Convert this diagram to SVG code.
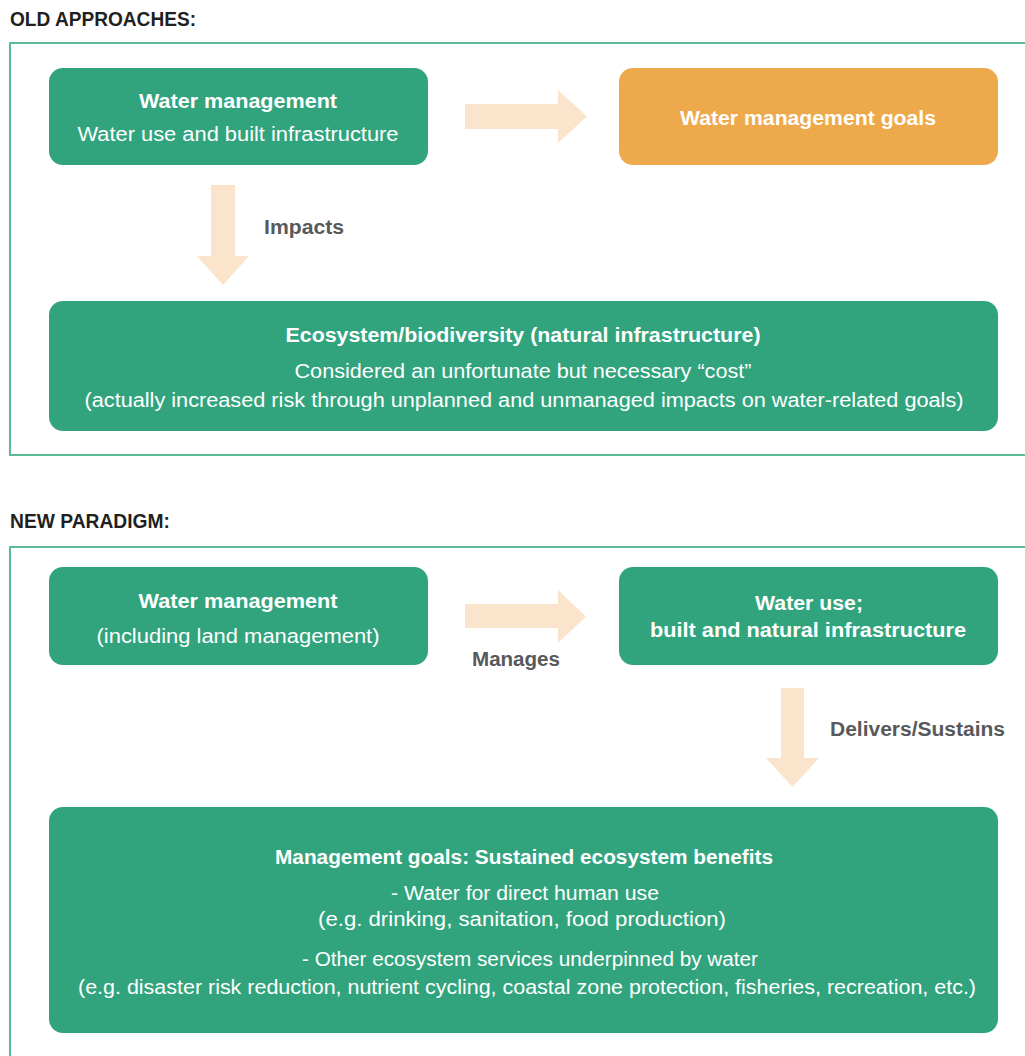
<svg xmlns="http://www.w3.org/2000/svg" width="1025" height="1056" viewBox="0 0 1025 1056">
<style>
.frame{fill:none;stroke:#5DBB95;stroke-width:2}
.node{fill:#31A47E}
.goal{fill:#EEA94C}
.arr{fill:#FBE4CC}
text{font-family:"Liberation Sans",Arial,sans-serif}
.h{font-size:20px;font-weight:bold;fill:#231F20}
.t{font-size:20px;fill:#FFFFFF;text-anchor:middle}
.b{font-weight:bold}
.lbl{font-size:20px;font-weight:bold;fill:#58595B}
</style>
<rect width="1025" height="1056" fill="#FFFFFF"/>
<text class="h" x="10" y="26" textLength="186" lengthAdjust="spacingAndGlyphs">OLD APPROACHES:</text>
<rect class="frame" x="10" y="43" width="1030" height="412"/>
<text class="h" x="10" y="528" textLength="160" lengthAdjust="spacingAndGlyphs">NEW PARADIGM:</text>
<rect class="frame" x="10" y="547" width="1030" height="530"/>

<g id="connectors">
<path class="arr" d="M465,104 H558 V90 L587,116.5 L558,143 V129 H465 Z"/>
<path class="arr" d="M211,185 H235 V256 H249 L223,285 L197,256 H211 Z"/>
<path class="arr" d="M465,604 H558 V590 L586,616.5 L558,643 V628 H465 Z"/>
<path class="arr" d="M781,688 H804 V758 H819 L792.5,787 L766,758 H781 Z"/>
<text class="lbl" x="264" y="234" textLength="80" lengthAdjust="spacingAndGlyphs">Impacts</text>
<text class="lbl" x="472" y="666" textLength="88" lengthAdjust="spacingAndGlyphs">Manages</text>
<text class="lbl" x="830" y="736" textLength="175" lengthAdjust="spacingAndGlyphs">Delivers/Sustains</text>
</g>

<g id="old-water-management">
<rect class="node" x="49" y="68" width="379" height="97" rx="14"/>
<text class="t b" x="238" y="108" textLength="198" lengthAdjust="spacingAndGlyphs">Water management</text>
<text class="t" x="238" y="141" textLength="321" lengthAdjust="spacingAndGlyphs">Water use and built infrastructure</text>
</g>

<g id="old-goals">
<rect class="goal" x="619" y="68" width="379" height="97" rx="14"/>
<text class="t b" x="808" y="125" textLength="256" lengthAdjust="spacingAndGlyphs">Water management goals</text>
</g>

<g id="old-ecosystem">
<rect class="node" x="49" y="301" width="949" height="130" rx="14"/>
<text class="t b" x="523" y="342" textLength="475" lengthAdjust="spacingAndGlyphs">Ecosystem/biodiversity (natural infrastructure)</text>
<text class="t" x="523" y="378" textLength="457" lengthAdjust="spacingAndGlyphs">Considered an unfortunate but necessary “cost”</text>
<text class="t" x="524" y="407" textLength="879" lengthAdjust="spacingAndGlyphs">(actually increased risk through unplanned and unmanaged impacts on water-related goals)</text>
</g>

<g id="new-water-management">
<rect class="node" x="49" y="567" width="379" height="98" rx="14"/>
<text class="t b" x="238" y="608" textLength="199" lengthAdjust="spacingAndGlyphs">Water management</text>
<text class="t" x="238" y="643" textLength="283" lengthAdjust="spacingAndGlyphs">(including land management)</text>
</g>

<g id="new-water-use">
<rect class="node" x="619" y="567" width="379" height="98" rx="14"/>
<text class="t b" x="809" y="610" textLength="108" lengthAdjust="spacingAndGlyphs">Water use;</text>
<text class="t b" x="808" y="637" textLength="316" lengthAdjust="spacingAndGlyphs">built and natural infrastructure</text>
</g>

<g id="new-goals">
<rect class="node" x="49" y="807" width="949" height="226" rx="14"/>
<text class="t b" x="524" y="864" textLength="498" lengthAdjust="spacingAndGlyphs">Management goals: Sustained ecosystem benefits</text>
<text class="t" x="525" y="900" textLength="268" lengthAdjust="spacingAndGlyphs">- Water for direct human use</text>
<text class="t" x="522" y="926" textLength="408" lengthAdjust="spacingAndGlyphs">(e.g. drinking, sanitation, food production)</text>
<text class="t" x="530" y="966" textLength="456" lengthAdjust="spacingAndGlyphs">- Other ecosystem services underpinned by water</text>
<text class="t" x="527" y="994" textLength="898" lengthAdjust="spacingAndGlyphs">(e.g. disaster risk reduction, nutrient cycling, coastal zone protection, fisheries, recreation, etc.)</text>
</g>
</svg>
